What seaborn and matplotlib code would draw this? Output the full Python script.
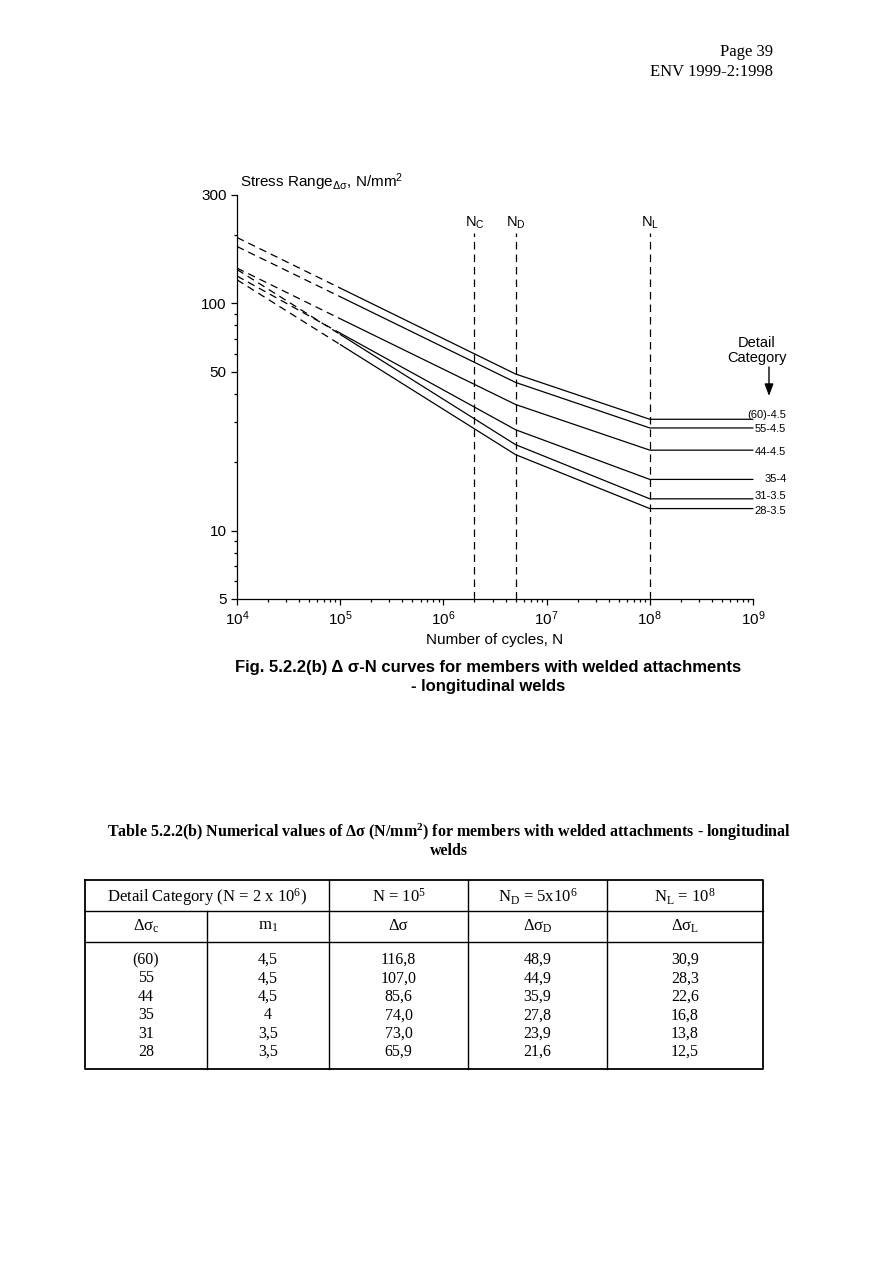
import numpy as np
import pandas as pd
import matplotlib
matplotlib.use('Agg')
import matplotlib.pyplot as plt
import matplotlib.transforms as mtransforms
from matplotlib.ticker import FixedLocator, FixedFormatter, NullFormatter, LogLocator
import seaborn as sns

# ---------------- data ----------------
categories = ['(60)', '55', '44', '35', '31', '28']
m1_values = ['4,5', '4,5', '4,5', '4', '3,5', '3,5']
curve_labels = ['(60)-4.5', '55-4.5', '44-4.5', '35-4', '31-3.5', '28-3.5']
stress_1e4 = [195, 178, 143, 132, 141, 127]
stress_1e5 = [116.8, 107.0, 85.6, 74.0, 73.0, 65.9]  # N = 10^5
stress_ND = [48.9, 44.9, 35.9, 27.8, 23.9, 21.6]     # N_D = 5x10^6
stress_NL = [30.9, 28.3, 22.6, 16.8, 13.8, 12.5]     # N_L = 10^8
N_start, N_1e5, N_C, N_D, N_L, N_end = 1e4, 1e5, 2e6, 5e6, 1e8, 1e9
vline_top = 205
y_major = [5, 10, 50, 100, 300]
y_minor = [6, 7, 8, 9, 20, 30, 40, 60, 70, 80, 90, 200]
x_major = [1e4, 1e5, 1e6, 1e7, 1e8, 1e9]
x_labels = ['$10^{4}$', '$10^{5}$', '$10^{6}$', '$10^{7}$', '$10^{8}$', '$10^{9}$']

# ---------------- style ----------------
sns.set_theme(style='ticks', rc={
    'axes.edgecolor': 'black', 'xtick.color': 'black', 'ytick.color': 'black',
    'text.color': 'black', 'axes.labelcolor': 'black', 'axes.linewidth': 0.9,
})
plt.rcParams['font.family'] = ['Liberation Sans', 'DejaVu Sans']
plt.rcParams['mathtext.default'] = 'regular'

W, H = 893, 1263
fig = plt.figure(figsize=(W / 100, H / 100), dpi=100)
fig.patch.set_facecolor('white')


def fx(x):
    return x / W


def fy(y):
    return 1 - y / H


ax = fig.add_axes([fx(237), fy(599), (753 - 237) / W, (599 - 195) / H])
ax.set_facecolor('white')

solid_rows, dash_rows = [], []
for c, a, b, d, l in zip(categories, stress_1e4, stress_1e5, stress_ND, stress_NL):
    dash_rows += [(c, N_start, a), (c, N_1e5, b)]
    solid_rows += [(c, N_1e5, b), (c, N_D, d), (c, N_L, l), (c, N_end, l)]
solid_df = pd.DataFrame(solid_rows, columns=['cat', 'N', 'stress'])
dash_df = pd.DataFrame(dash_rows, columns=['cat', 'N', 'stress'])

ax.set_xscale('log')
ax.set_yscale('log')
sns.lineplot(data=solid_df, x='N', y='stress', units='cat', estimator=None,
             color='black', lw=0.9, ax=ax, legend=False, clip_on=False)
sns.lineplot(data=dash_df, x='N', y='stress', units='cat', estimator=None,
             color='black', lw=0.9, ax=ax, legend=False, linestyle=(0, (6, 4)))
ax.vlines([N_C, N_D, N_L], 5, vline_top, colors='black', lw=0.9,
          linestyles=[(0, (6, 4))])

ax.set_xlim(1e4, 1e9)
ax.set_ylim(5, 300)
ax.xaxis.set_major_locator(FixedLocator(x_major))
ax.xaxis.set_major_formatter(FixedFormatter(x_labels))
ax.xaxis.set_minor_locator(LogLocator(base=10, subs=np.arange(2, 10)))
ax.xaxis.set_minor_formatter(NullFormatter())
ax.yaxis.set_major_locator(FixedLocator(y_major))
ax.yaxis.set_major_formatter(FixedFormatter([str(v) for v in y_major]))
ax.yaxis.set_minor_locator(FixedLocator(y_minor))
ax.yaxis.set_minor_formatter(NullFormatter())
ax.tick_params(which='major', direction='out', length=4.5, width=0.9, labelsize=11, pad=3)
ax.tick_params(which='minor', direction='out', length=2.5, width=0.9)
ax.set_xlabel('')
ax.set_ylabel('')
sns.despine(ax=ax)

# N labels above the vertical lines
blend = mtransforms.blended_transform_factory(ax.transData, fig.transFigure)
for n, lab in zip([N_C, N_D, N_L], ['N$_{C}$', 'N$_{D}$', 'N$_{L}$']):
    ax.text(n, fy(227), lab, transform=blend, ha='center', va='baseline', fontsize=10.5)

# curve labels on the right
label_dy = [3, -1, -1, 0, 2, -2]
for lab, v, dy in zip(curve_labels, stress_NL, label_dy):
    ax.annotate(lab, xy=(N_end, v), xytext=(24, dy), textcoords='offset points',
                ha='right', va='center', fontsize=8, annotation_clip=False)

fig.text(fx(757), fy(343), 'Detail', ha='center', va='center', fontsize=10.5)
fig.text(fx(757), fy(358), 'Category', ha='center', va='center', fontsize=10.5)
ax.annotate('', xy=(fx(769), fy(396)), xytext=(fx(769), fy(367)),
            xycoords='figure fraction', textcoords='figure fraction',
            arrowprops=dict(arrowstyle='-|>,head_length=0.6,head_width=0.22',
                            color='black', lw=1.0, shrinkA=0, shrinkB=0),
            annotation_clip=False)

# axis titles
fig.text(fx(240), fy(187), 'Stress Range$_{Δσ}$, N/mm$^{2}$', ha='left', va='baseline', fontsize=11)
fig.text(fx(495), fy(640), 'Number of cycles, N', ha='center', va='center', fontsize=11)

# caption
fig.text(fx(488), fy(668), 'Fig. 5.2.2(b) Δ σ-N curves for members with welded attachments',
         ha='center', va='center', fontsize=12, weight='bold')
fig.text(fx(488), fy(686), '- longitudinal welds', ha='center', va='center',
         fontsize=12, weight='bold')

# page header
serif = ['Liberation Serif', 'DejaVu Serif']
fig.text(fx(773), fy(52), 'Page 39', ha='right', va='center', family=serif, fontsize=12)
fig.text(fx(773), fy(72), 'ENV 1999-2:1998', ha='right', va='center', family=serif, fontsize=12)

# table title
fig.text(fx(449), fy(832),
         'Table 5.2.2(b) Numerical values of Δσ (N/mm$^{2}$) for members with welded attachments - longitudinal',
         ha='center', va='center', family=serif, weight='bold', fontsize=11.5)
fig.text(fx(449), fy(851), 'welds', ha='center', va='center', family=serif,
         weight='bold', fontsize=11.5)

# table
tx0, tx1, ty0, ty1 = 85, 763, 880, 1069
tax = fig.add_axes([fx(tx0), fy(ty1), (tx1 - tx0) / W, (ty1 - ty0) / H])
tax.set_xlim(tx0, tx1)
tax.set_ylim(ty1, ty0)
tax.axis('off')
lk = dict(color='black', clip_on=False, solid_capstyle='projecting')
tax.plot([tx0, tx1, tx1, tx0, tx0], [ty0, ty0, ty1, ty1, ty0], lw=1.3, **lk)
tax.plot([tx0, tx1], [910.5, 910.5], lw=1.0, **lk)
tax.plot([tx0, tx1], [941.5, 941.5], lw=1.0, **lk)
tax.plot([207, 207], [910.5, ty1], lw=1.0, **lk)
for xv in [329, 468, 607]:
    tax.plot([xv, xv], [ty0, ty1], lw=1.0, **lk)

col_c = [146, 268, 398.5, 537.5, 685]
tk = dict(ha='center', va='center', family=serif, fontsize=12)
tax.text(207, 897, 'Detail Category (N = 2 x 10$^{6}$)', **tk)
tax.text(col_c[2], 897, 'N = 10$^{5}$', **tk)
tax.text(col_c[3], 897, 'N$_{D}$ = 5x10$^{6}$', **tk)
tax.text(col_c[4], 897, 'N$_{L}$ = 10$^{8}$', **tk)
for xc, h in zip(col_c, ['Δσ$_{c}$', 'm$_{1}$', 'Δσ', 'Δσ$_{D}$', 'Δσ$_{L}$']):
    tax.text(xc, 926, h, **tk)

row_y = [960, 978.4, 996.8, 1015.2, 1033.6, 1052]
dk = dict(tk, fontsize=11.5)


def fmt(v):
    return f'{v:.1f}'.replace('.', ',')


for i, ry in enumerate(row_y):
    vals = [categories[i], m1_values[i], fmt(stress_1e5[i]), fmt(stress_ND[i]), fmt(stress_NL[i])]
    for xc, s in zip(col_c, vals):
        tax.text(xc, ry, s, **dk)

fig.savefig('out.png', dpi=100, facecolor='white')
